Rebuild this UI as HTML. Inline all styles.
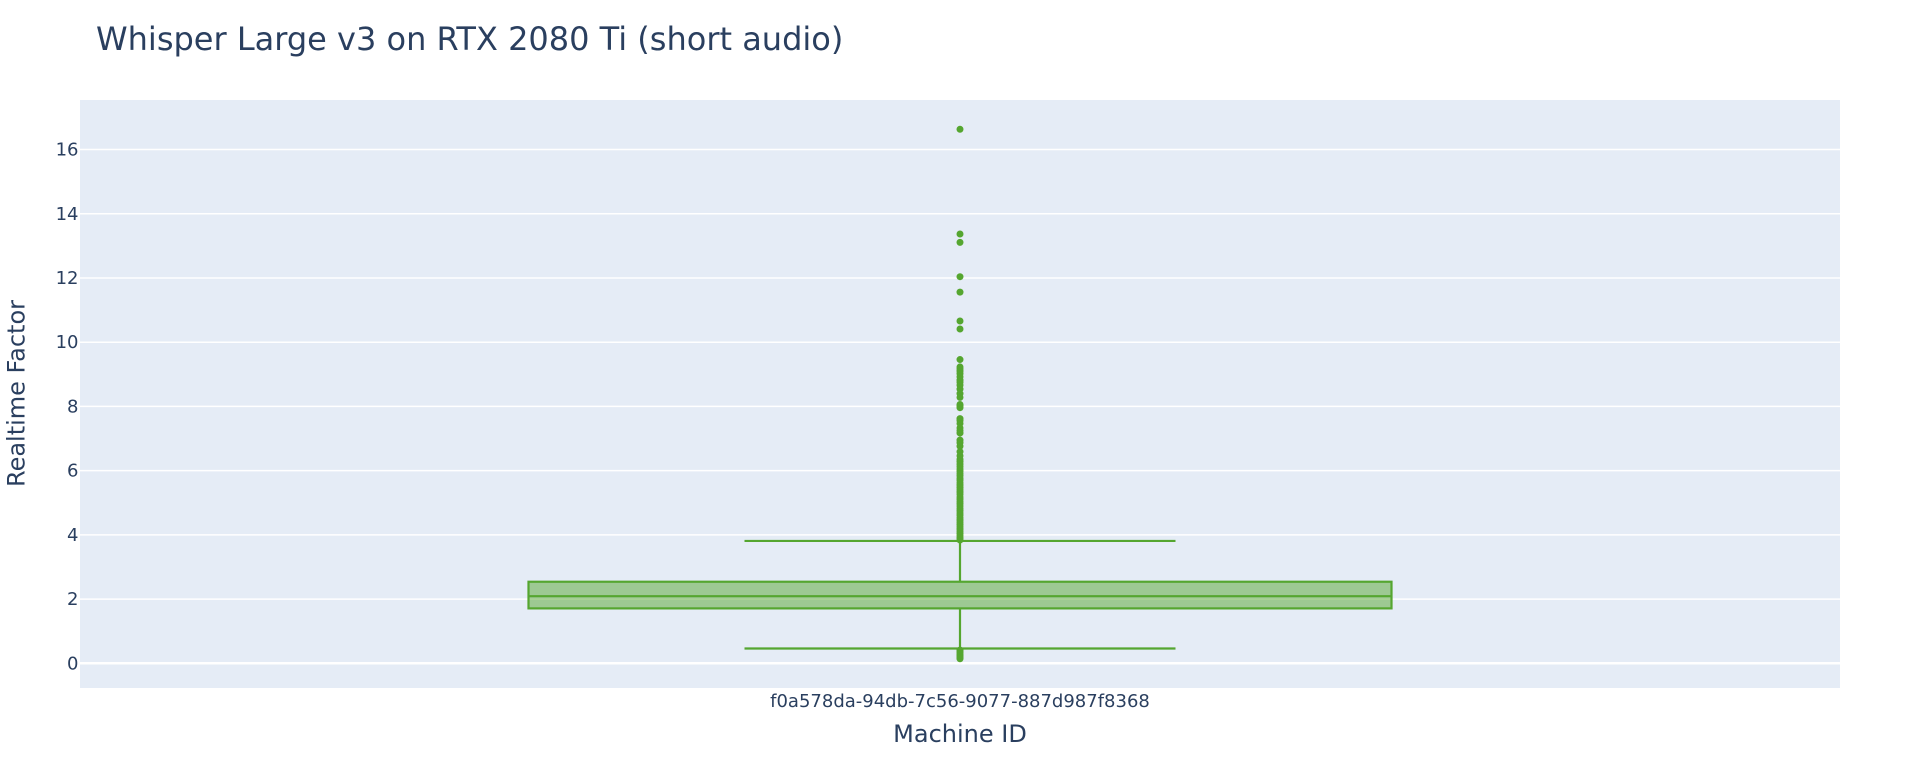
<!DOCTYPE html>
<html lang="en">
<head>
<meta charset="utf-8">
<title>Whisper Large v3 on RTX 2080 Ti (short audio)</title>
<style>
html,body{margin:0;padding:0;background:#fff;width:1920px;height:768px;overflow:hidden}
svg{display:block}
text{font-family:"DejaVu Sans","Liberation Sans",sans-serif;fill:#2a3f5f}
</style>
</head>
<body>
<svg id="chart" xmlns="http://www.w3.org/2000/svg" width="1920" height="768" viewBox="0 0 1920 768">
  <rect x="0" y="0" width="1920" height="768" fill="#ffffff"/>
  <rect x="80" y="100" width="1760" height="588" fill="#e5ecf6"/>
  <g id="grid"></g>
  <g id="ticks"></g>
  <g id="marks"></g>
  <text x="96" y="50" font-size="32">Whisper Large v3 on RTX 2080 Ti (short audio)</text>
  <text id="xtick" x="960" y="707" font-size="18" text-anchor="middle"></text>
  <text x="960" y="742" font-size="24" text-anchor="middle">Machine ID</text>
  <text transform="translate(24.5 393.5) rotate(-90)" font-size="24" text-anchor="middle">Realtime Factor</text>
</svg>
<script>
const categories = ['f0a578da-94db-7c56-9077-887d987f8368'];
const yTickValues = [0, 2, 4, 6, 8, 10, 12, 14, 16];
const q1Values = [1.71];
const medianValues = [2.09];
const q3Values = [2.54];
const lowerFenceValues = [0.46];
const upperFenceValues = [3.81];
const upperOutliers = [
  16.63, 13.37, 13.11, 12.04, 11.56, 10.66, 10.41, 9.46,
  9.23, 9.17, 9.1, 9.02, 8.92, 8.82, 8.75, 8.66, 8.54, 8.4, 8.28,
  8.06, 8.02, 7.96, 7.62, 7.56, 7.47, 7.33, 7.25, 7.17,
  6.95, 6.87, 6.76, 6.59, 6.46, 6.35, 6.28, 6.2, 6.13, 6.05,
  5.98, 5.91, 5.84, 5.76, 5.7, 5.62, 5.55, 5.47, 5.4, 5.33, 5.26, 5.18,
  5.11, 5.04, 4.97, 4.9, 4.82, 4.75, 4.68, 4.61, 4.53, 4.46, 4.39, 4.32,
  4.25, 4.18, 4.11, 4.04, 3.97, 3.9, 3.84
];
const lowerOutliers = [0.41, 0.37, 0.33, 0.28, 0.24, 0.2, 0.17, 0.14];

const PLOT_LEFT = 80, PLOT_WIDTH = 1760;
const Y_ZERO = 663.3, Y_UNIT = 32.11;
const BOX_HALF = 431.5, CAP_HALF = 215.5;
const GREEN = '#55a630';
const NS = 'http://www.w3.org/2000/svg';

function yScale(v) { return Y_ZERO - v * Y_UNIT; }
function xScale(i) { return PLOT_LEFT + PLOT_WIDTH * (i + 0.5) / categories.length; }
function make(tag, attrs, parent) {
  const el = document.createElementNS(NS, tag);
  for (const k in attrs) el.setAttribute(k, attrs[k]);
  parent.appendChild(el);
  return el;
}

const gridG = document.getElementById('grid');
const ticksG = document.getElementById('ticks');
const marksG = document.getElementById('marks');

yTickValues.forEach(function (v) {
  const y = yScale(v);
  const line = make('line', {
    x1: PLOT_LEFT, x2: PLOT_LEFT + PLOT_WIDTH,
    y1: y, y2: y,
    stroke: '#ffffff', 'stroke-width': v === 0 ? 2.5 : 1.5
  }, gridG);
  
  
  const label = make('text', { x: 78.5, y: y + 6, 'font-size': 18, 'text-anchor': 'end' }, ticksG);
  label.textContent = String(v);
  
  
});

document.getElementById('xtick').textContent = categories[0];

categories.forEach(function (cat, i) {
  const cx = xScale(i);
  const q1 = yScale(q1Values[i]), q3 = yScale(q3Values[i]), med = yScale(medianValues[i]);
  const lo = yScale(lowerFenceValues[i]), hi = yScale(upperFenceValues[i]);

  const box = make('rect', {
    x: cx - BOX_HALF, y: q3, width: BOX_HALF * 2, height: q1 - q3,
    fill: 'rgba(85,166,48,0.5)', stroke: GREEN, 'stroke-width': 2.2
  }, marksG);
  
  

  const median = make('line', {
    x1: cx - BOX_HALF, x2: cx + BOX_HALF, y1: med, y2: med, stroke: GREEN, 'stroke-width': 2.2
  }, marksG);
  
  

  const whiskerUp = make('line', { x1: cx, x2: cx, y1: q3, y2: hi, stroke: GREEN, 'stroke-width': 2.2 }, marksG);
  
  

  const whiskerDown = make('line', { x1: cx, x2: cx, y1: q1, y2: lo, stroke: GREEN, 'stroke-width': 2.2 }, marksG);
  
  

  const capUp = make('line', { x1: cx - CAP_HALF, x2: cx + CAP_HALF, y1: hi, y2: hi, stroke: GREEN, 'stroke-width': 2.2 }, marksG);
  
  

  const capDown = make('line', { x1: cx - CAP_HALF, x2: cx + CAP_HALF, y1: lo, y2: lo, stroke: GREEN, 'stroke-width': 2.2 }, marksG);
  
  

  upperOutliers.concat(lowerOutliers).forEach(function (v) {
    const dot = make('circle', { cx: cx, cy: yScale(v), r: 3.5, fill: GREEN }, marksG);
    
    
  });
});
</script>
</body>
</html>
